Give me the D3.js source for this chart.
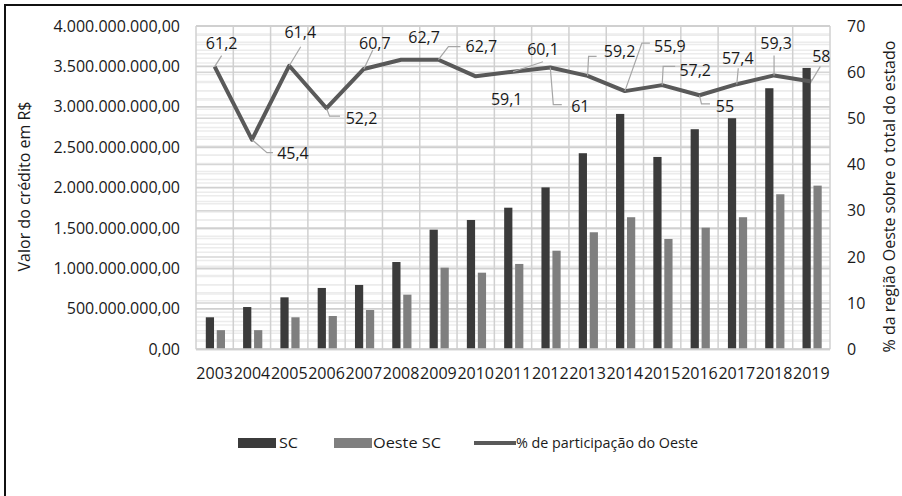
<!DOCTYPE html>
<html>
<head>
<meta charset="utf-8">
<script src="https://cdn.jsdelivr.net/npm/d3@7"></script>
<style>
  body { margin: 0; background: #fff; }
  text { font-family: "Open Sans", sans-serif; fill: #1a1a1a; }
</style>
</head>
<body>
<svg id="chart" width="902" height="496"></svg>
<script>
// data
var years = ["2003","2004","2005","2006","2007","2008","2009","2010","2011","2012","2013","2014","2015","2016","2017","2018","2019"];
var scValues = [396e6, 523e6, 643e6, 759e6, 796e6, 1080e6, 1480e6, 1600e6, 1752e6, 2003e6, 2426e6, 2912e6, 2380e6, 2723e6, 2859e6, 3230e6, 3481e6];
var oesteValues = [237e6, 237e6, 396e6, 412e6, 486e6, 676e6, 1010e6, 948e6, 1056e6, 1220e6, 1448e6, 1634e6, 1365e6, 1505e6, 1634e6, 1918e6, 2025e6];
var shareValues = [61.2, 45.4, 61.4, 52.2, 60.7, 62.7, 62.7, 59.1, 60.1, 61, 59.2, 55.9, 57.2, 55, 57.4, 59.3, 58];
var leftTicks = [0, 5e8, 1e9, 1.5e9, 2e9, 2.5e9, 3e9, 3.5e9, 4e9];
var rightTicks = [0, 10, 20, 30, 40, 50, 60, 70];

// label placement (manual in the original, offsets from the point)
var labelOffsets = [
  {dx: 7, dy: -23, lead: [[7, -11]]},
  {dx: 41, dy: 14, lead: [[15, 13], [21, 13]]},
  {dx: 11, dy: -33, lead: [[11.5, -19]]},
  {dx: 35, dy: 10, lead: [[3, 8], [13.5, 8]]},
  {dx: 11, dy: -26, lead: [[9, -19]]},
  {dx: 23, dy: -22, lead: null},
  {dx: 43, dy: -13, lead: [[10, -13], [22, -13]]},
  {dx: 31, dy: 23, lead: null},
  {dx: 30, dy: -22, lead: [[30, -10]]},
  {dx: 30, dy: 39, lead: [[3, 37], [11.5, 37]]},
  {dx: 32, dy: -24, lead: [[1, -19.5], [9, -19.5]]},
  {dx: 45, dy: -45, lead: [[17, -48], [25, -48]]},
  {dx: 33, dy: -15, lead: [[1, -18.7], [13, -18.7]]},
  {dx: 25.5, dy: 11, lead: [[2, 8.5], [10.5, 8.5]]},
  {dx: 1, dy: -26, lead: [[1.5, -16]]},
  {dx: 2, dy: -32, lead: [[0, -20]]},
  {dx: 10, dy: -25, lead: [[9, -15]]}
];

var colors = { sc: "#3b3b3b", oeste: "#7f7f7f", line: "#595959", lead: "#a6a6a6" };

var plot = { left: 196, right: 830, top: 26, bottom: 349.3 };

var svg = d3.select("#chart");

var ptBR = d3.formatLocale({ decimal: ",", thousands: ".", grouping: [3], currency: ["R$ ", ""] });
var fmtMoney = ptBR.format(",.2f");
var fmtShare = ptBR.format(",~f");

var x = d3.scaleBand().domain(years).range([plot.left, plot.right]).padding(0);
var sub = d3.scaleBand().domain(["sc", "oeste"]).range([9.8, 29]).paddingInner(0.25);
var yLeft = d3.scaleLinear().domain([0, 4e9]).range([plot.bottom, plot.top]);
var yRight = d3.scaleLinear().domain([0, 70]).range([plot.bottom, plot.top]);

// outer frame
svg.append("rect")
  .attr("x", 5).attr("y", 5).attr("width", 920).attr("height", 520)
  .attr("fill", "none").attr("stroke", "#111").attr("stroke-width", 2);

var grid = svg.append("g");

// minor gridlines
grid.selectAll(".minorL")
  .data(d3.range(0, 4e9 + 1, 1e8).filter(v => v % 5e8 !== 0))
  .enter().append("line")
  .attr("x1", plot.left).attr("x2", plot.right)
  .attr("y1", d => yLeft(d)).attr("y2", d => yLeft(d))
  .attr("stroke", "#ececec").attr("stroke-width", 1.5);

grid.selectAll(".minorR")
  .data(d3.range(0, 71, 2).filter(v => v % 10 !== 0))
  .enter().append("line")
  .attr("x1", plot.left).attr("x2", plot.right)
  .attr("y1", d => yRight(d)).attr("y2", d => yRight(d))
  .attr("stroke", "#ececec").attr("stroke-width", 1.5);

// major gridlines, both axes
grid.selectAll(".majorR")
  .data(rightTicks)
  .enter().append("line")
  .attr("x1", plot.left).attr("x2", plot.right)
  .attr("y1", d => yRight(d)).attr("y2", d => yRight(d))
  .attr("stroke", "#d6d6d6").attr("stroke-width", 1.5);

grid.selectAll(".majorL")
  .data(leftTicks)
  .enter().append("line")
  .attr("x1", plot.left).attr("x2", plot.right)
  .attr("y1", d => yLeft(d)).attr("y2", d => yLeft(d))
  .attr("stroke", "#d0d0d0").attr("stroke-width", 1.8);

// vertical lines at category boundaries
grid.selectAll(".vline")
  .data(years.concat(["end"]))
  .enter().append("line")
  .attr("x1", (d, i) => plot.left + i * x.bandwidth())
  .attr("x2", (d, i) => plot.left + i * x.bandwidth())
  .attr("y1", plot.top).attr("y2", plot.bottom)
  .attr("stroke", "#d0d0d0").attr("stroke-width", 1.5);

// bars
var groups = svg.selectAll(".year")
  .data(years)
  .enter().append("g")
  .attr("transform", d => `translate(${x(d)},0)`);

groups.append("rect")
  .attr("x", sub("sc"))
  .attr("width", sub.bandwidth())
  .attr("y", (d, i) => yLeft(scValues[i]))
  .attr("height", (d, i) => plot.bottom - yLeft(scValues[i]))
  .attr("fill", colors.sc);

groups.append("rect")
  .attr("x", sub("oeste"))
  .attr("width", sub.bandwidth())
  .attr("y", (d, i) => yLeft(oesteValues[i]))
  .attr("height", (d, i) => plot.bottom - yLeft(oesteValues[i]))
  .attr("fill", colors.oeste);

// bottom axis line
svg.append("line")
  .attr("x1", plot.left).attr("x2", plot.right)
  .attr("y1", plot.bottom).attr("y2", plot.bottom)
  .attr("stroke", "#cfcfcf").attr("stroke-width", 2);

// share line
var cx = (d, i) => x(years[i]) + x.bandwidth() / 2;
var line = d3.line()
  .x((d, i) => cx(d, i))
  .y(d => yRight(d));

svg.append("path")
  .datum(shareValues)
  .attr("d", line)
  .attr("fill", "none")
  .attr("stroke", colors.line)
  .attr("stroke-width", 4)
  .attr("stroke-linejoin", "round");

// leader lines + labels
var labels = svg.append("g");
shareValues.forEach(function(v, i) {
  var px = cx(v, i), py = yRight(v);
  var off = labelOffsets[i];
  if (off.lead) {
    var pts = [[px, py]].concat(off.lead.map(p => [px + p[0], py + p[1]]));
    labels.append("path")
      .attr("d", d3.line()(pts))
      .attr("fill", "none")
      .attr("stroke", colors.lead)
      .attr("stroke-width", 1.2);
  }
  labels.append("text")
    .attr("x", px + off.dx)
    .attr("y", py + off.dy)
    .attr("dy", "0.35em")
    .attr("text-anchor", "middle")
    .attr("font-size", 16)
    .text(fmtShare(v));
});

// left axis labels
svg.selectAll(".ltick")
  .data(leftTicks)
  .enter().append("text")
  .attr("x", 180)
  .attr("y", d => yLeft(d))
  .attr("dy", "0.35em")
  .attr("text-anchor", "end")
  .attr("font-size", 16)
  .text(d => fmtMoney(d));

// right axis labels
svg.selectAll(".rtick")
  .data(rightTicks)
  .enter().append("text")
  .attr("x", 847)
  .attr("y", d => yRight(d))
  .attr("dy", "0.35em")
  .attr("text-anchor", "start")
  .attr("font-size", 16)
  .text(d => d);

// x labels
svg.selectAll(".xtick")
  .data(years)
  .enter().append("text")
  .attr("x", d => x(d) + x.bandwidth() / 2)
  .attr("y", 373)
  .attr("dy", "0.35em")
  .attr("text-anchor", "middle")
  .attr("font-size", 16)
  .text(d => d);

// axis titles
svg.append("text")
  .attr("transform", "translate(24,186.5) rotate(-90)")
  .attr("dy", "0.35em")
  .attr("text-anchor", "middle")
  .attr("font-size", 16)
  .text("Valor do crédito em R$");

svg.append("text")
  .attr("transform", "translate(889,196.5) rotate(-90)")
  .attr("dy", "0.35em")
  .attr("text-anchor", "middle")
  .attr("font-size", 16)
  .text("% da região Oeste sobre o total do estado");

// legend
var legend = svg.append("g").attr("transform", "translate(0,443)");
legend.append("rect").attr("x", 238).attr("y", -5).attr("width", 38).attr("height", 10).attr("fill", colors.sc);
legend.append("text").attr("x", 279).attr("dy", "0.35em").attr("font-size", 15)
  .attr("textLength", 19).attr("lengthAdjust", "spacingAndGlyphs").text("SC");
legend.append("rect").attr("x", 334).attr("y", -5).attr("width", 38).attr("height", 10).attr("fill", colors.oeste);
legend.append("text").attr("x", 373).attr("dy", "0.35em").attr("font-size", 15)
  .attr("textLength", 68).attr("lengthAdjust", "spacingAndGlyphs").text("Oeste SC");
legend.append("line").attr("x1", 474).attr("x2", 516).attr("y1", 0).attr("y2", 0)
  .attr("stroke", colors.line).attr("stroke-width", 4);
legend.append("text").attr("x", 516).attr("dy", "0.35em").attr("font-size", 15)
  .attr("textLength", 182).attr("lengthAdjust", "spacingAndGlyphs").text("% de participação do Oeste");
</script>
</body>
</html>
